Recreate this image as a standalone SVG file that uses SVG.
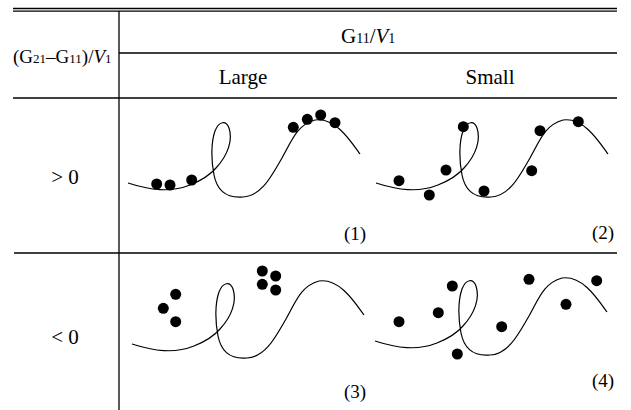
<svg xmlns="http://www.w3.org/2000/svg" xmlns:xlink="http://www.w3.org/1999/xlink" width="631" height="410" viewBox="0 0 631 410">
<style>
.rule{stroke:#000;stroke-width:1.3;fill:none}
.curve{stroke:#000;stroke-width:1.2;fill:none}
.dot{fill:#000}
text{font-family:"Liberation Serif","Times New Roman",serif;fill:#000}
.lbl{font-size:21px}
.hdr{font-size:19px}
.sub{font-size:14px}
.hsub{font-size:13px}
.num{font-size:19px}
</style>
<defs>
<path id="wave" d="M128,183 C150,190 170,193 190,185 C200,181 210,175 216,168 C228,155 233,140 229,128 C226,120 219,121 215,131 C211,142 211,160 214,175 C218,195 232,198 243,197 C262,196 272,175 282,158 C292,140 297,125 315,120 C335,117 350,140 360,154"/>
</defs>
<rect width="631" height="410" fill="#fff"/>
<g id="table">
<line class="rule" x1="13" y1="8.5" x2="617" y2="8.5" stroke-width="1"/>
<line class="rule" x1="13" y1="11.2" x2="617" y2="11.2" stroke-width="1.4"/>
<line class="rule" x1="119" y1="11" x2="119" y2="410"/>
<line class="rule" x1="119" y1="53" x2="617" y2="53"/>
<line class="rule" x1="13" y1="98" x2="617" y2="98"/>
<line class="rule" x1="14" y1="253" x2="617" y2="253"/>
</g>
<g id="headers">
<text class="hdr" x="13" y="63">(G<tspan class="hsub">21</tspan>–G<tspan class="hsub">11</tspan>)/<tspan font-style="italic">V</tspan><tspan class="hsub">1</tspan></text>
<text class="lbl" x="341" y="43">G<tspan class="sub">11</tspan>/<tspan font-style="italic">V</tspan><tspan class="sub">1</tspan></text>
<text class="lbl" x="243" y="84" text-anchor="middle">Large</text>
<text class="lbl" x="490" y="84" text-anchor="middle">Small</text>
<text class="lbl" x="65" y="184" text-anchor="middle">&gt; 0</text>
<text class="lbl" x="65" y="344" text-anchor="middle">&lt; 0</text>
</g>
<g id="panel1">
<use xlink:href="#wave" class="curve"/>
<circle class="dot" cx="156.7" cy="184" r="5.5"/>
<circle class="dot" cx="170" cy="185" r="5.5"/>
<circle class="dot" cx="191.7" cy="180" r="5.5"/>
<circle class="dot" cx="293.3" cy="127.3" r="5.5"/>
<circle class="dot" cx="307.3" cy="119.3" r="5.5"/>
<circle class="dot" cx="320.7" cy="115" r="5.5"/>
<circle class="dot" cx="335" cy="122.7" r="5.5"/>
<text class="num" x="355" y="240" text-anchor="middle">(1)</text>
</g>
<g id="panel2">
<use xlink:href="#wave" class="curve" transform="translate(248,0)"/>
<circle class="dot" cx="399" cy="180.7" r="5.5"/>
<circle class="dot" cx="429.3" cy="195" r="5.5"/>
<circle class="dot" cx="446" cy="170" r="5.5"/>
<circle class="dot" cx="463.3" cy="126.7" r="5.5"/>
<circle class="dot" cx="484" cy="191" r="5.5"/>
<circle class="dot" cx="531.7" cy="170.7" r="5.5"/>
<circle class="dot" cx="540" cy="130.7" r="5.5"/>
<circle class="dot" cx="578.3" cy="121.7" r="5.5"/>
<text class="num" x="603" y="239" text-anchor="middle">(2)</text>
</g>
<g id="panel3">
<use xlink:href="#wave" class="curve" transform="translate(4,161)"/>
<circle class="dot" cx="175.7" cy="294.3" r="5.5"/>
<circle class="dot" cx="163.3" cy="308.3" r="5.5"/>
<circle class="dot" cx="175.7" cy="321.7" r="5.5"/>
<circle class="dot" cx="262.3" cy="271" r="5.5"/>
<circle class="dot" cx="275.7" cy="276" r="5.5"/>
<circle class="dot" cx="262.3" cy="284.3" r="5.5"/>
<circle class="dot" cx="275.7" cy="290" r="5.5"/>
<text class="num" x="355" y="398" text-anchor="middle">(3)</text>
</g>
<g id="panel4">
<use xlink:href="#wave" class="curve" transform="translate(247,158)"/>
<circle class="dot" cx="399" cy="321.7" r="5.5"/>
<circle class="dot" cx="438.3" cy="312.7" r="5.5"/>
<circle class="dot" cx="452.3" cy="286" r="5.5"/>
<circle class="dot" cx="457.3" cy="354" r="5.5"/>
<circle class="dot" cx="501.7" cy="326.7" r="5.5"/>
<circle class="dot" cx="529" cy="279.3" r="5.5"/>
<circle class="dot" cx="566" cy="304.3" r="5.5"/>
<circle class="dot" cx="596.7" cy="280.7" r="5.5"/>
<text class="num" x="603" y="387" text-anchor="middle">(4)</text>
</g>
</svg>
